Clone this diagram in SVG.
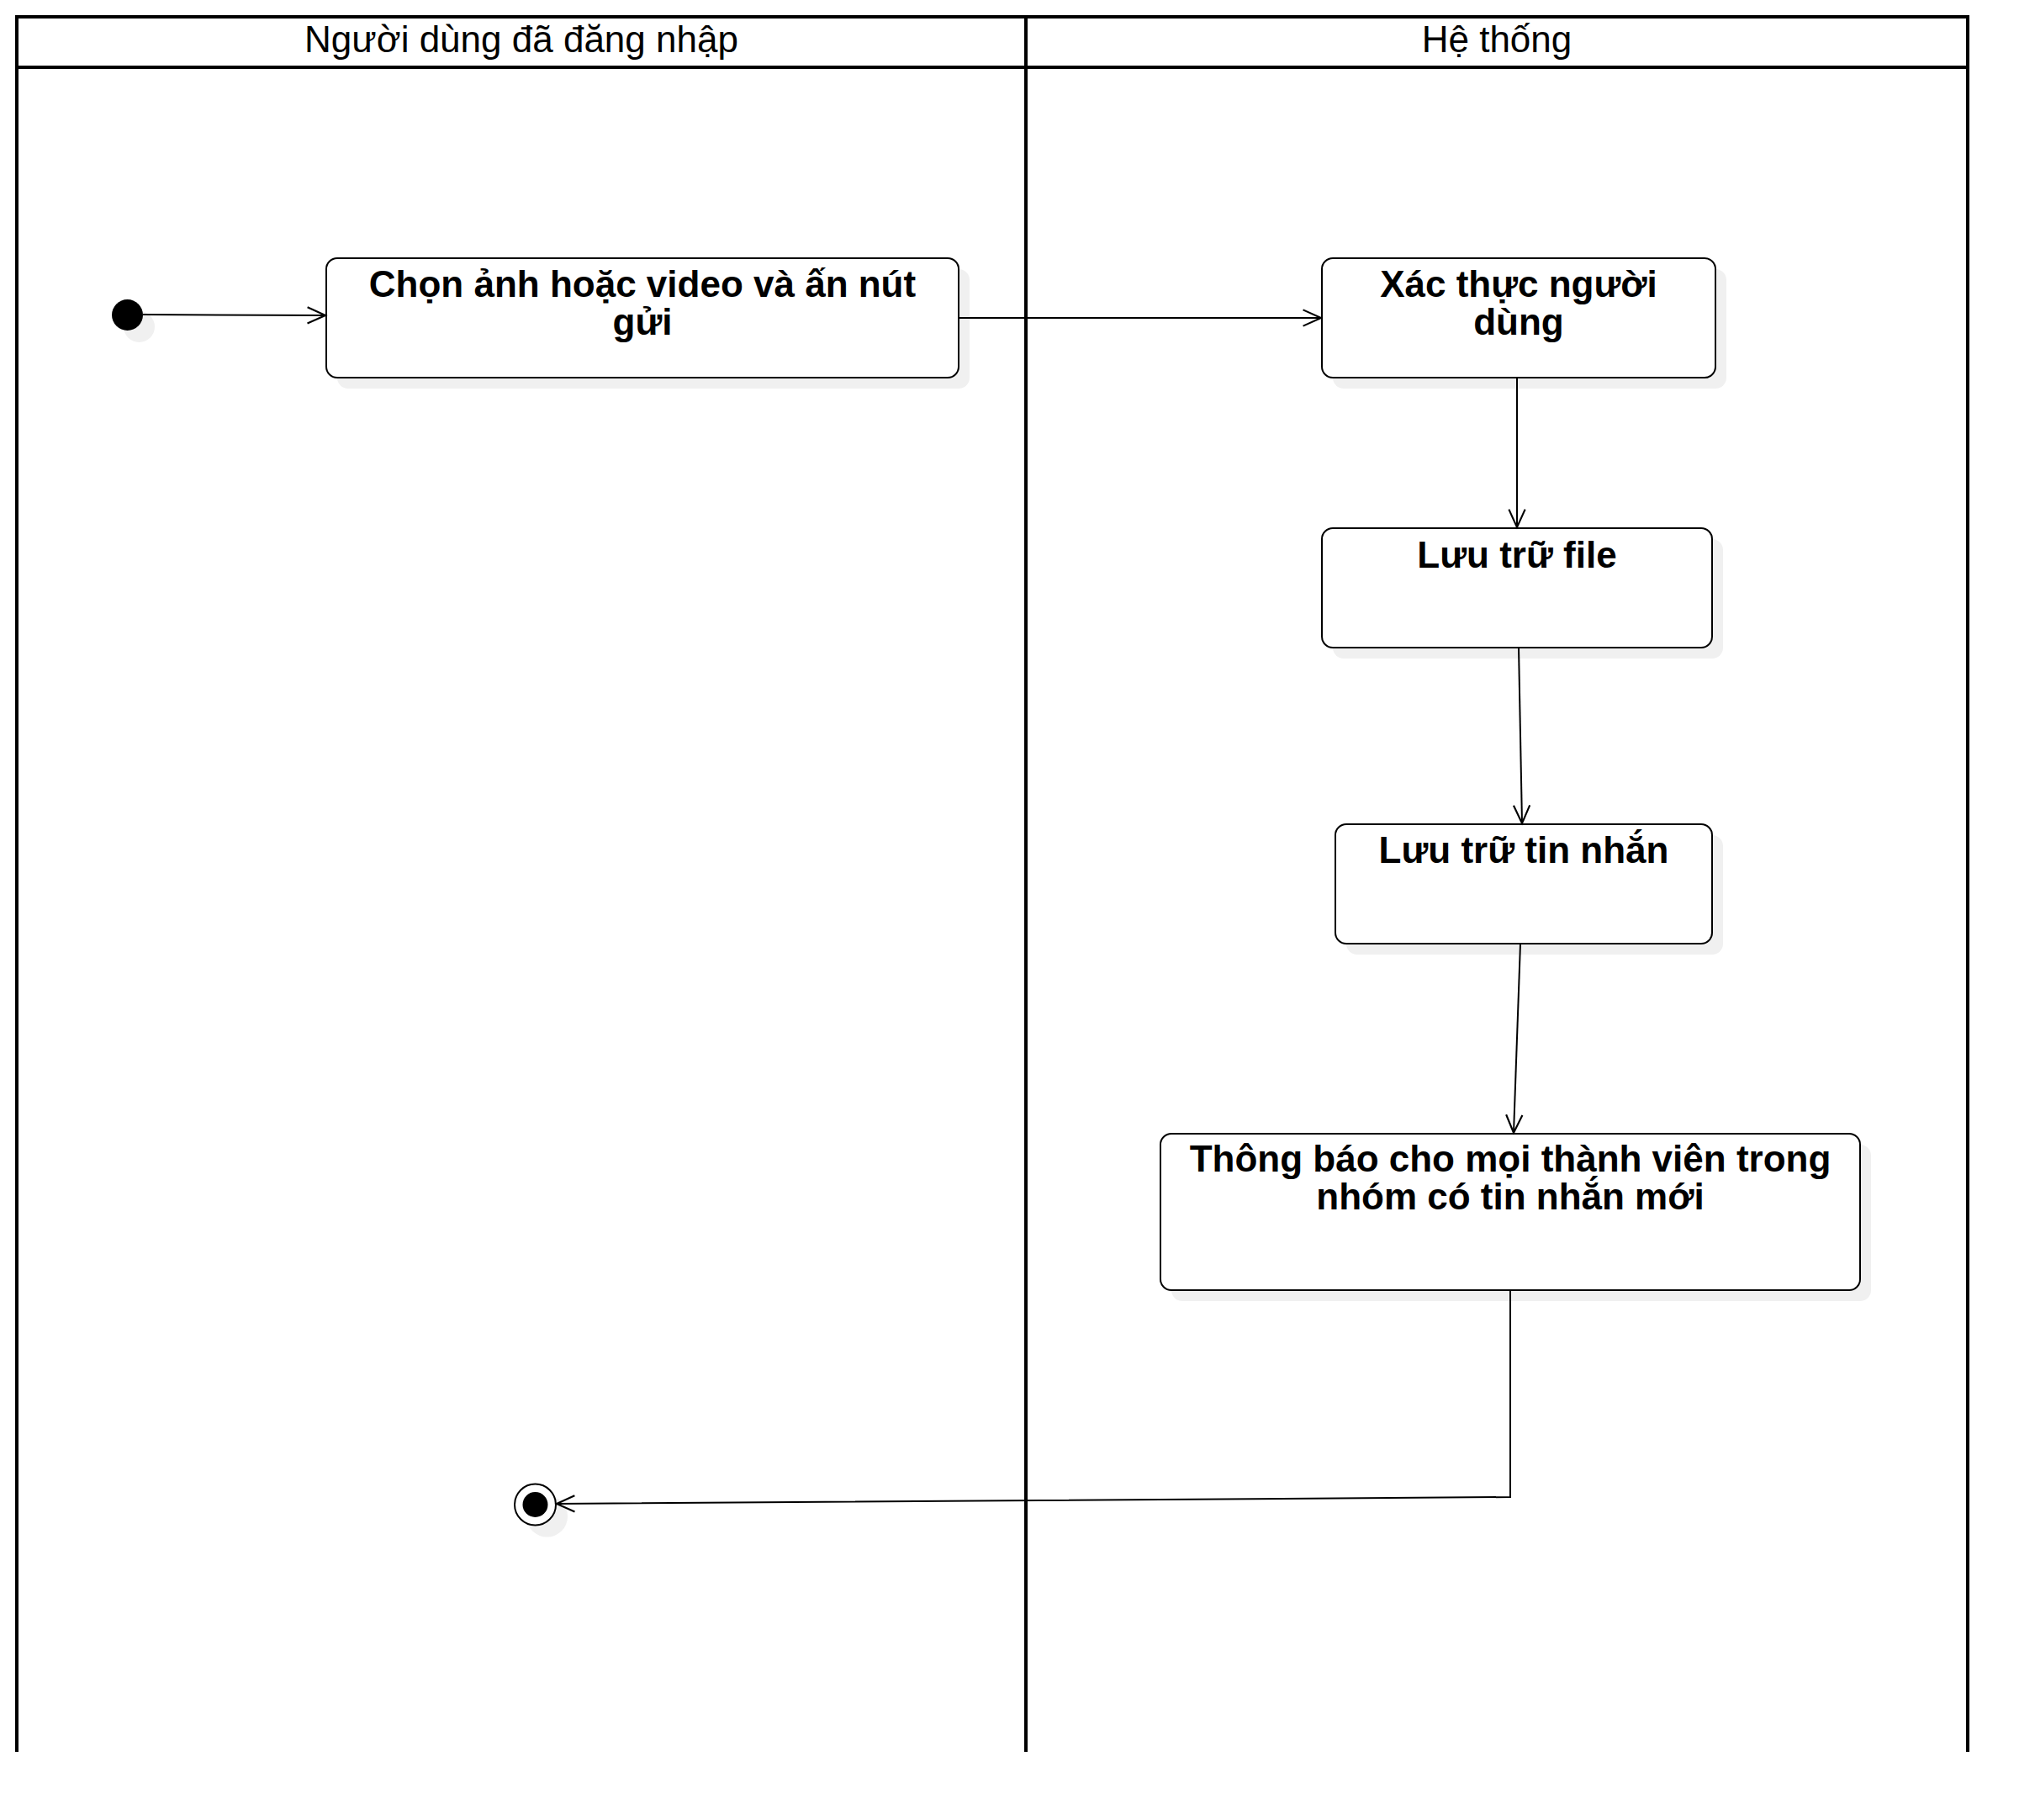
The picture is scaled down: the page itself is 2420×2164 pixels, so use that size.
<svg xmlns="http://www.w3.org/2000/svg" width="2420" height="2164" viewBox="0 0 2420 2164">
<defs>
<style>
.lane{fill:none;stroke:#000;stroke-width:4;}
.hdr{font-family:"Liberation Sans",Arial,sans-serif;font-size:44px;fill:#000;text-anchor:middle;}
.box{fill:#fff;stroke:#000;stroke-width:2;}
.shadow{fill:#f0f0f0;stroke:none;}
.lbl{font-family:"Liberation Sans",Arial,sans-serif;font-size:44px;font-weight:bold;fill:#000;text-anchor:middle;}
.edge{fill:none;stroke:#000;stroke-width:2;}
</style>
<marker id="open" markerUnits="userSpaceOnUse" markerWidth="30" markerHeight="30" viewBox="-24 -12 28 24" refX="0" refY="0" orient="auto">
<path d="M-20,-9 L0,0 L-20,9" fill="none" stroke="#000" stroke-width="2"/>
</marker>
</defs>
<rect width="2420" height="2164" fill="#fff"/>
<g id="swimlanes">
<line class="lane" x1="18" y1="20" x2="2342" y2="20"/>
<line class="lane" x1="20" y1="80" x2="2340" y2="80"/>
<line class="lane" x1="20" y1="18" x2="20" y2="2083"/>
<line class="lane" x1="1220" y1="20" x2="1220" y2="2083"/>
<line class="lane" x1="2340" y1="18" x2="2340" y2="2083"/>
<text class="hdr" x="620" y="62">Người dùng đã đăng nhập</text>
<text class="hdr" x="1780" y="62">Hệ thống</text>
</g>
<g id="start">
<circle class="shadow" cx="165.5" cy="388.5" r="18.5"/>
<circle cx="151.5" cy="374.5" r="18.5" fill="#000"/>
</g>
<g id="n1">
<rect class="shadow" x="401" y="320" width="752" height="142" rx="13"/>
<rect class="box" x="388" y="307" width="752" height="142" rx="13"/>
<text class="lbl" x="764" y="353">Chọn ảnh hoặc video và ấn nút<tspan x="764" dy="45">gửi</tspan></text>
</g>
<g id="n2">
<rect class="shadow" x="1585" y="320" width="468" height="142" rx="13"/>
<rect class="box" x="1572" y="307" width="468" height="142" rx="13"/>
<text class="lbl" x="1806" y="353">Xác thực người<tspan x="1806" dy="45">dùng</tspan></text>
</g>
<g id="n3">
<rect class="shadow" x="1585" y="641" width="464" height="142" rx="13"/>
<rect class="box" x="1572" y="628" width="464" height="142" rx="13"/>
<text class="lbl" x="1804" y="675">Lưu trữ file</text>
</g>
<g id="n4">
<rect class="shadow" x="1601" y="993" width="448" height="142" rx="13"/>
<rect class="box" x="1588" y="980" width="448" height="142" rx="13"/>
<text class="lbl" x="1812" y="1026">Lưu trữ tin nhắn</text>
</g>
<g id="n5">
<rect class="shadow" x="1393" y="1361" width="832" height="186" rx="13"/>
<rect class="box" x="1380" y="1348" width="832" height="186" rx="13"/>
<text class="lbl" x="1796" y="1393">Thông báo cho mọi thành viên trong<tspan x="1796" dy="45">nhóm có tin nhắn mới</tspan></text>
</g>
<g id="end">
<circle class="shadow" cx="650.5" cy="1803" r="24.5"/>
<circle cx="636.5" cy="1789" r="24.5" fill="#fff" stroke="#000" stroke-width="2"/>
<circle cx="636.5" cy="1789" r="15" fill="#000"/>
</g>
<g id="connectors">
<path class="edge" d="M170,374 L387,375" marker-end="url(#open)"/>
<path class="edge" d="M1140,378 L1571,378" marker-end="url(#open)"/>
<path class="edge" d="M1804,449 L1804,627" marker-end="url(#open)"/>
<path class="edge" d="M1806,770 L1810,979" marker-end="url(#open)"/>
<path class="edge" d="M1808,1122 L1800,1347" marker-end="url(#open)"/>
<path class="edge" d="M1796,1534 L1796,1780 L662,1788" marker-end="url(#open)"/>
</g>
</svg>
